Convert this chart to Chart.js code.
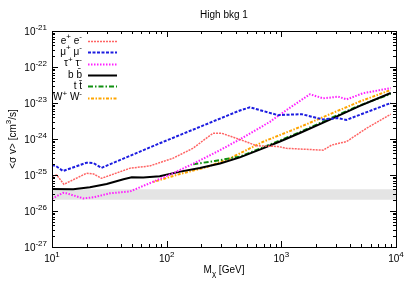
<!DOCTYPE html>
<html><head><meta charset="utf-8">
<script src="https://cdn.jsdelivr.net/npm/chart.js@4/dist/chart.umd.min.js"></script>
<style>html,body{margin:0;padding:0;background:#fff;}#wrap{width:415px;height:291px;}</style>
</head><body><div id="wrap"><canvas id="c" width="415" height="291"></canvas></div>
<script>
const TITLE = 'High bkg 1';
const X_MIN = 10, X_MAX = 10000, Y_MIN = 1e-27, Y_MAX = 1e-21;
const X_TICK_VALUES = [10, 100, 1000, 10000];
const X_TICK_EXP = ['1', '2', '3', '4'];
const Y_TICK_VALUES = [1e-27, 1e-26, 1e-25, 1e-24, 1e-23, 1e-22, 1e-21];
const Y_TICK_EXP = ['-27', '-26', '-25', '-24', '-23', '-22', '-21'];

// Thermal-relic band
const BAND_X = [10, 10000];
const BAND_LO = 2.05e-26;
const BAND_HI = 4.0e-26;

// e+ e-
const MASS_EE = [10, 11, 12.7, 20, 23, 27, 48, 71, 113, 169, 253, 302, 451, 609, 934, 1111, 2318, 2745, 3709, 5546, 9000];
const SV_EE = [9.3e-26, 1.0e-25, 5.5e-26, 1.12e-25, 1.07e-25, 8.1e-26, 1.55e-25, 1.78e-25, 2.9e-25, 5.5e-25, 1.44e-24, 1.44e-24, 9.3e-25, 6.5e-25, 6.2e-25, 5.5e-25, 4.9e-25, 6.8e-25, 8.5e-25, 2.0e-24, 4.9e-24];
// mu+ mu-
const MASS_MUMU = [10, 10.8, 12.5, 20, 23, 27, 87, 435, 532, 934, 1500, 2300, 3100, 3700, 9000];
const SV_MUMU = [1.9e-25, 1.78e-25, 1.29e-25, 2.19e-25, 2.15e-25, 1.58e-25, 7.6e-25, 6.2e-24, 7.6e-24, 4.6e-24, 4.9e-24, 3.5e-24, 3.8e-24, 3.4e-24, 1.0e-23];
// tau+ tau-
const MASS_TAUTAU = [10, 12.5, 13.4, 18.7, 23, 32, 48, 71, 114, 183, 292, 435, 795, 1111, 1775, 2318, 3134, 3709, 5140, 9000];
const SV_TAUTAU = [2.2e-26, 3.2e-26, 3.1e-26, 2.24e-26, 2.4e-26, 3.1e-26, 3.5e-26, 5.9e-26, 1.12e-25, 2.3e-25, 4.9e-25, 9.8e-25, 3.0e-24, 6.4e-24, 1.75e-23, 1.35e-23, 1.5e-23, 1.26e-23, 1.86e-23, 2.6e-23];
// b bbar
const MASS_BB = [10, 15.3, 21.4, 30, 42, 49.6, 62.5, 87, 131, 195, 292, 435, 691, 972, 1452, 2655, 4840, 9000];
const SV_BB = [4.1e-26, 4.0e-26, 4.55e-26, 5.6e-26, 7.6e-26, 8.7e-26, 8.5e-26, 9.3e-26, 1.24e-25, 1.56e-25, 2.09e-25, 3.08e-25, 5.5e-25, 8.5e-25, 1.47e-24, 3.47e-24, 8.3e-24, 1.9e-23];
// t tbar
const MASS_TT = [170.6, 263, 435, 691, 972, 1452, 2655, 4840, 9000];
const SV_TT = [2.0e-25, 2.45e-25, 3.25e-25, 5.8e-25, 9.1e-25, 1.56e-24, 3.7e-24, 8.6e-24, 1.8e-23];
// W+ W-
const MASS_WW = [76.4, 130.6, 223, 356, 695, 1452, 2655, 4840, 9000];
const SV_WW = [6.4e-26, 1.07e-25, 1.66e-25, 2.9e-25, 8.4e-25, 2.15e-24, 4.9e-24, 1.1e-23, 2.3e-23];

const FONT = '"Liberation Sans", Arial, "DejaVu Sans", sans-serif';

function pts(xs, ys) { return xs.map((x, i) => ({ x: x, y: ys[i] })); }

const SERIES = [
  { label: [{t:'e'},{t:'+',sup:1},{t:' e'},{t:'-',sup:1}], x: MASS_EE, y: SV_EE, color: '#ff6464', dash: [2, 1], width: 1.5 },
  { label: [{t:'\u03bc'},{t:'+',sup:1},{t:' \u03bc'},{t:'-',sup:1}], x: MASS_MUMU, y: SV_MUMU, color: '#1c1ce0', dash: [3, 1.5], width: 2 },
  { label: [{t:'\u03c4'},{t:'+',sup:1},{t:' \u03c4'},{t:'-',sup:1}], x: MASS_TAUTAU, y: SV_TAUTAU, color: '#ff20ff', dash: [1.5, 1.5], width: 2 },
  { label: [{t:'b b\u0304'}], x: MASS_BB, y: SV_BB, color: '#000000', dash: [], width: 2 },
  { label: [{t:'t t\u0304'}], x: MASS_TT, y: SV_TT, color: '#109010', dash: [5, 2, 1.5, 2], width: 2 },
  { label: [{t:'W'},{t:'+',sup:1},{t:' W'},{t:'-',sup:1}], x: MASS_WW, y: SV_WW, color: '#ffa500', dash: [1.5, 1.5, 3, 1.5], width: 2 }
];

const datasets = SERIES.map(s => ({
  data: pts(s.x, s.y), borderColor: s.color, borderDash: s.dash, borderWidth: s.width,
  pointRadius: 0, fill: false, tension: 0, order: 1
}));
datasets.push({ data: BAND_X.map(x => ({x: x, y: BAND_HI})), borderWidth: 0, pointRadius: 0, fill: '+1', backgroundColor: '#e4e4e4', order: 10 });
datasets.push({ data: BAND_X.map(x => ({x: x, y: BAND_LO})), borderWidth: 0, pointRadius: 0, fill: false, order: 10 });

function segFont(s, size) { return (s.sup || s.sub ? Math.round(size * 0.8) : size) + 'px ' + FONT; }
function drawRich(ctx, segs, x, y, align, size) {
  ctx.textAlign = 'left'; ctx.textBaseline = 'middle';
  let w = 0;
  for (const s of segs) { ctx.font = segFont(s, size); w += ctx.measureText(s.t).width; }
  let cx = align === 'right' ? x - w : align === 'center' ? x - w / 2 : x;
  for (const s of segs) {
    ctx.font = segFont(s, size);
    const dy = s.sup ? -size * 0.42 : s.sub ? size * 0.35 : 0;
    ctx.fillText(s.t, cx, y + dy);
    cx += ctx.measureText(s.t).width;
  }
}

const framePlugin = {
  id: 'frame',
  afterDatasetsDraw(chart) {
    const ctx = chart.ctx, a = chart.chartArea, xs = chart.scales.x, ys = chart.scales.y;
    ctx.save();
    ctx.strokeStyle = '#000'; ctx.lineWidth = 1; ctx.setLineDash([]);
    ctx.beginPath();
    // x ticks
    for (let k = 1; k <= 4; k++) {
      for (let m = 1; m <= 9; m++) {
        const v = m * Math.pow(10, k);
        if (v > X_MAX || v < X_MIN) continue;
        const px = Math.round(xs.getPixelForValue(v)) + 0.5;
        const len = m === 1 ? 6 : 3;
        ctx.moveTo(px, a.bottom); ctx.lineTo(px, a.bottom - len);
        ctx.moveTo(px, a.top); ctx.lineTo(px, a.top + len);
      }
    }
    // y ticks
    for (let k = -27; k <= -21; k++) {
      for (let m = 1; m <= 9; m++) {
        const v = m * Math.pow(10, k);
        if (v > Y_MAX * 1.0001 || v < Y_MIN * 0.9999) continue;
        const py = Math.round(ys.getPixelForValue(v)) + 0.5;
        const len = m === 1 ? 6 : 3;
        ctx.moveTo(a.left, py); ctx.lineTo(a.left + len, py);
        ctx.moveTo(a.right, py); ctx.lineTo(a.right - len, py);
      }
    }
    ctx.stroke();
    ctx.strokeRect(Math.round(a.left) + 0.5, Math.round(a.top) + 0.5, Math.round(a.right - a.left), Math.round(a.bottom - a.top));

    ctx.fillStyle = '#000';
    // tick labels
    X_TICK_VALUES.forEach((v, i) => {
      drawRich(ctx, [{t:'10'},{t:X_TICK_EXP[i],sup:1}], xs.getPixelForValue(v), a.bottom + 12, 'center', 10);
    });
    Y_TICK_VALUES.forEach((v, i) => {
      drawRich(ctx, [{t:'10'},{t:Y_TICK_EXP[i],sup:1}], a.left - 5, ys.getPixelForValue(v) + 1, 'right', 10);
    });
    // title
    drawRich(ctx, [{t:TITLE}], (a.left + a.right) / 2, 15, 'center', 10);
    // x title
    drawRich(ctx, [{t:'M'},{t:'\u03c7',sub:1},{t:' [GeV]'}], (a.left + a.right) / 2, 270, 'center', 10);
    // y title
    ctx.save();
    ctx.translate(13, (a.top + a.bottom) / 2);
    ctx.rotate(-Math.PI / 2);
    drawRich(ctx, [{t:'<\u03c3 v> [cm'},{t:'3',sup:1},{t:'/s]'}], 0, 0, 'center', 10);
    ctx.restore();
    // legend
    SERIES.forEach((s, i) => {
      const y = 41 + i * 11.3;
      ctx.fillStyle = '#000';
      drawRich(ctx, s.label, 82, y, 'right', 10);
      ctx.strokeStyle = s.color; ctx.lineWidth = s.width; ctx.setLineDash(s.dash);
      ctx.beginPath(); ctx.moveTo(88, Math.round(y) + 0.5); ctx.lineTo(117, Math.round(y) + 0.5); ctx.stroke();
    });
    ctx.restore();
  }
};

new Chart(document.getElementById('c'), {
  type: 'line',
  data: { datasets: datasets },
  options: {
    responsive: false, animation: false, devicePixelRatio: 1,
    layout: { padding: { top: 31, right: 19, left: 0, bottom: 0 } },
    plugins: { legend: { display: false }, tooltip: { enabled: false }, title: { display: false } },
    scales: {
      x: { type: 'logarithmic', min: X_MIN, max: X_MAX, ticks: { display: false }, grid: { display: false }, border: { display: false },
           afterFit(s) { s.height = 44; } },
      y: { type: 'logarithmic', min: Y_MIN, max: Y_MAX, ticks: { display: false }, grid: { display: false }, border: { display: false },
           afterFit(s) { s.width = 52; } }
    }
  },
  plugins: [framePlugin]
});
</script></body></html>
